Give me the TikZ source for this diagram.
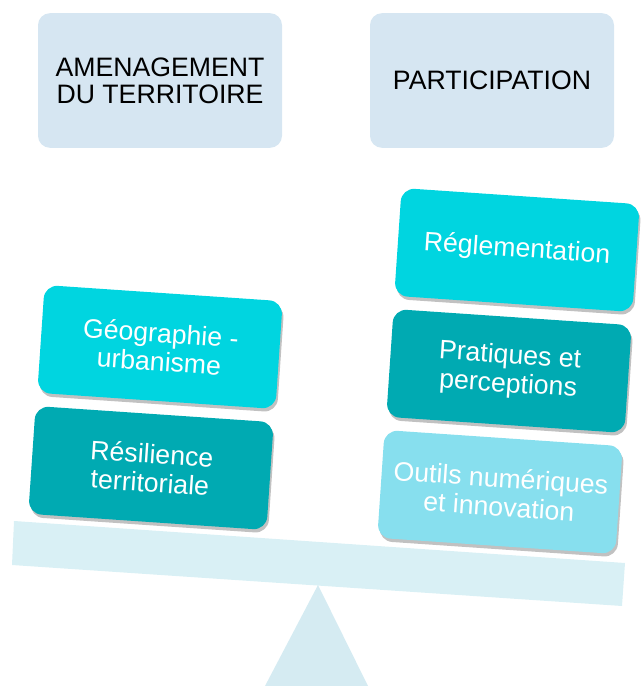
\documentclass[tikz,border=0pt]{standalone}
\usepackage{fontspec}
\setmainfont{Liberation Sans}
\usetikzlibrary{shadows}
\definecolor{topbox}{HTML}{D6E6F2}
\definecolor{beamc}{HTML}{D9F0F5}
\definecolor{standc}{HTML}{D5EBF2}
\definecolor{bright}{HTML}{00D5E0}
\definecolor{darkteal}{HTML}{00AAB2}
\definecolor{lightcyan}{HTML}{87DFEE}
\begin{document}
\begin{tikzpicture}[x=0.75pt,y=0.75pt,
  header/.style={fill=topbox,rounded corners=9pt,minimum width=183pt,minimum height=101pt,
    align=center,font=\fontsize{20}{20.5}\selectfont,text=black,inner sep=0pt},
  weight/.style={rounded corners=10pt,minimum width=179pt,minimum height=81pt,rotate=-3.9,
    align=center,font=\fontsize{20}{21.5}\selectfont,text=white,inner sep=0pt,
    drop shadow={opacity=0.35,shadow xshift=1.2pt,shadow yshift=-2.5pt,fill=black!70}},
]
\useasboundingbox (0,0) rectangle (641,686);
% stand and beam
\path[fill=standc] (318,101) coordinate (apex) -- (265,0) -- (368,0) -- cycle;
\path[fill=beamc] (14,165) -- (625,123) -- (622,80) -- (12,121) -- cycle;
% headers
\node[header] (amen) at (160,605.5) {AMENAGEMENT\\DU TERRITOIRE};
\node[header] (part) at (492,605.5) {PARTICIPATION};
% left weights
\node[weight,fill=darkteal] (res) at (151,218) {Résilience\\territoriale};
\node[weight,fill=bright] (geo) at (160,339) {Géographie -\\urbanisme};
% right weights
\node[weight,fill=lightcyan] (out) at (500,194) {Outils numériques\\et innovation};
\node[weight,fill=darkteal] (prat) at (509,315) {Pratiques et\\perceptions};
\node[weight,fill=bright] (reg) at (517,436) {Réglementation};
\end{tikzpicture}
\end{document}
